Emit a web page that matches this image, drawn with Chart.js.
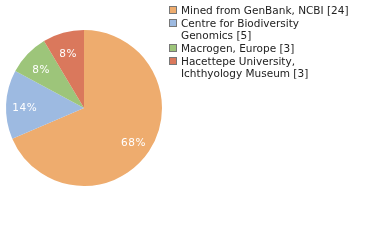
<!DOCTYPE html>
<html>
<head>
<meta charset="utf-8">
<script src="https://cdn.jsdelivr.net/npm/chart.js@4/dist/chart.umd.min.js"></script>
<style>
    html, body { margin: 0; padding: 0; background: #fff; }
    #wrap { position: relative; width: 380px; height: 240px; }
    #legend { position: absolute; left: 169px; top: 4px; font-family: "DejaVu Sans", sans-serif; font-size: 10.5px; color: #222; }
    .item { display: flex; align-items: flex-start; margin-bottom: 1px; line-height: 12px; }
    .box { width: 6px; height: 6px; border: 1px solid #777; margin: 2px 4px 0 0; flex: none; }
</style>
</head>
<body>
<div id="wrap">
    <canvas id="pieChart" width="380" height="240"></canvas>
    <div id="legend"></div>
</div>
<script>
const labels = [
    ['Mined from GenBank, NCBI [24]'],
    ['Centre for Biodiversity', 'Genomics [5]'],
    ['Macrogen, Europe [3]'],
    ['Hacettepe University,', 'Ichthyology Museum [3]']
];
const counts = [24, 5, 3, 3];
const colors = ['#eeac6e', '#9dbae1', '#9dc57a', '#da785c'];

// legend on the right
const legendEl = document.getElementById('legend');
labels.forEach(function (lines, i) {
    const item = document.createElement('div');
    item.className = 'item';
    const box = document.createElement('div');
    box.className = 'box';
    box.style.background = colors[i];
    const txt = document.createElement('div');
    txt.innerHTML = lines.join('<br>');
    item.appendChild(box);
    item.appendChild(txt);
    legendEl.appendChild(item);
});

const total = counts.reduce((a, b) => a + b, 0);

// percent labels inside the slices
const pctLabels = {
    id: 'pctLabels',
    afterDatasetsDraw(chart) {
        const ctx = chart.ctx;
        const meta = chart.getDatasetMeta(0);
        ctx.save();
        ctx.fillStyle = '#fff';
        ctx.font = '10.5px "DejaVu Sans"';
        ctx.textAlign = 'center';
        ctx.textBaseline = 'middle';
        if ('letterSpacing' in ctx) ctx.letterSpacing = '0.6px';
        meta.data.forEach(function (arc, i) {
            const mid = (arc.startAngle + arc.endAngle) / 2;
            const r = arc.outerRadius * 0.76;
            const x = arc.x + Math.cos(mid) * r;
            const y = arc.y + Math.sin(mid) * r + 3;
            ctx.fillText(Math.floor(counts[i] * 100 / total) + '%', x, y);
        });
        ctx.restore();
    }
};

new Chart(document.getElementById('pieChart').getContext('2d'), {
    type: 'pie',
    data: {
        labels: labels.map(l => l.join(' ')),
        datasets: [{
            data: counts,
            backgroundColor: colors,
            borderWidth: 0
        }]
    },
    options: {
        responsive: false,
        animation: false,
        layout: { padding: { left: 6, top: 30, right: 218, bottom: 54 } },
        plugins: {
            legend: { display: false },
            tooltip: { enabled: false }
        }
    },
    plugins: [pctLabels]
});
</script>
</body>
</html>
